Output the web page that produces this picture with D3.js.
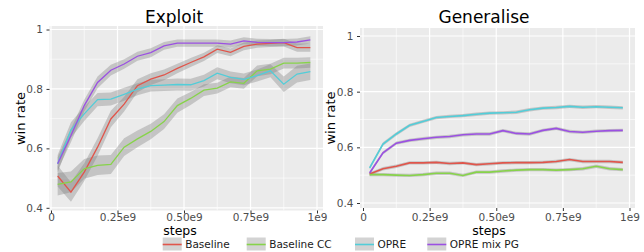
<!DOCTYPE html>
<html><head><meta charset="utf-8">
<script src="https://cdn.jsdelivr.net/npm/d3@7"></script>
<style>body{margin:0;background:#fff}svg{display:block;font-family:"DejaVu Sans",sans-serif}</style>
</head><body><svg id="c" width="644" height="252"></svg>
<script>
const steps = [0.025e9,0.075e9,0.125e9,0.175e9,0.225e9,0.275e9,0.325e9,0.375e9,0.425e9,0.475e9,0.525e9,0.575e9,0.625e9,0.675e9,0.725e9,0.775e9,0.825e9,0.875e9,0.925e9,0.975e9];
const seriesNames = ["Baseline","Baseline CC","OPRE","OPRE mix PG"];
const xTicks = [0,0.25e9,0.5e9,0.75e9,1e9];
const xTickLabels = ["0","0.25e9","0.50e9","0.75e9","1e9"];
const yTicks = [0.4,0.6,0.8,1];
const yTickLabels = ["0.4","0.6","0.8","1"];

// Exploit
const exploitBaseline   = [0.507,0.453,0.520,0.604,0.699,0.749,0.811,0.833,0.847,0.869,0.889,0.908,0.934,0.923,0.943,0.951,0.953,0.956,0.939,0.939];
const exploitBaselineCC = [0.479,0.487,0.531,0.543,0.546,0.604,0.632,0.657,0.690,0.744,0.768,0.796,0.803,0.824,0.819,0.861,0.867,0.887,0.887,0.889];
const exploitOPRE       = [0.548,0.662,0.716,0.764,0.766,0.782,0.799,0.811,0.813,0.815,0.814,0.828,0.853,0.839,0.832,0.845,0.861,0.816,0.850,0.858];
const exploitMix        = [0.548,0.643,0.744,0.822,0.863,0.884,0.910,0.922,0.945,0.954,0.954,0.954,0.954,0.951,0.962,0.957,0.956,0.956,0.958,0.965];
const exploitBaselineSd   = [0.035,0.033,0.030,0.030,0.028,0.025,0.022,0.020,0.018,0.016,0.015,0.014,0.013,0.013,0.013,0.012,0.012,0.013,0.014,0.014];
const exploitBaselineCCSd = [0.038,0.035,0.033,0.033,0.032,0.030,0.028,0.026,0.025,0.024,0.022,0.020,0.018,0.018,0.018,0.018,0.018,0.018,0.018,0.018];
const exploitOPRESd       = [0.030,0.026,0.024,0.022,0.022,0.022,0.020,0.020,0.020,0.020,0.020,0.020,0.020,0.020,0.020,0.020,0.022,0.026,0.028,0.028];
const exploitMixSd        = [0.022,0.022,0.020,0.020,0.018,0.016,0.015,0.015,0.013,0.012,0.012,0.012,0.012,0.012,0.012,0.012,0.012,0.012,0.012,0.012];

// Generalise
const genBaseline   = [0.504,0.523,0.532,0.544,0.544,0.546,0.542,0.544,0.538,0.541,0.544,0.545,0.545,0.546,0.549,0.556,0.549,0.549,0.549,0.546];
const genBaselineCC = [0.502,0.502,0.500,0.499,0.502,0.507,0.507,0.499,0.511,0.511,0.515,0.518,0.520,0.520,0.518,0.520,0.523,0.532,0.523,0.520];
const genOPRE       = [0.526,0.612,0.648,0.679,0.693,0.707,0.711,0.714,0.719,0.723,0.724,0.726,0.735,0.741,0.743,0.747,0.744,0.746,0.744,0.742];
const genMix        = [0.508,0.580,0.615,0.625,0.631,0.636,0.639,0.645,0.648,0.648,0.660,0.650,0.648,0.661,0.668,0.657,0.654,0.658,0.660,0.661];
const genSd = [0.006,0.006,0.006,0.006,0.006,0.006,0.006,0.006,0.006,0.006,0.006,0.006,0.006,0.006,0.006,0.006,0.006,0.006,0.006,0.006];

const colors = ["#e0554b","#87d34a","#52cdd8","#9b50e2"];

const svg = d3.select("#c");

function panel(cfg){
  const g = svg.append("g");
  const x = d3.scaleLinear().domain([0,1e9]).range(cfg.xr);
  const y = d3.scaleLinear().domain([0.4,1]).range(cfg.yr);
  const p = cfg.p;
  g.append("rect").attr("x",p.x0).attr("y",p.y0).attr("width",p.x1-p.x0).attr("height",p.y1-p.y0).attr("fill","#ebebeb");
  const clip = "clip"+cfg.id;
  g.append("clipPath").attr("id",clip).append("rect").attr("x",p.x0).attr("y",p.y0).attr("width",p.x1-p.x0).attr("height",p.y1-p.y0);
  const grid = g.append("g").attr("clip-path",`url(#${clip})`);
  const xMinor = [0.125e9,0.375e9,0.625e9,0.875e9];
  const yMinor = [0.5,0.7,0.9];
  grid.selectAll(".xm").data(xMinor).join("line").attr("x1",d=>x(d)).attr("x2",d=>x(d)).attr("y1",p.y0).attr("y2",p.y1).attr("stroke","#fff").attr("stroke-width",0.6);
  grid.selectAll(".ym").data(yMinor).join("line").attr("y1",d=>y(d)).attr("y2",d=>y(d)).attr("x1",p.x0).attr("x2",p.x1).attr("stroke","#fff").attr("stroke-width",0.6);
  grid.selectAll(".xM").data(xTicks).join("line").attr("x1",d=>x(d)).attr("x2",d=>x(d)).attr("y1",p.y0).attr("y2",p.y1).attr("stroke","#fff").attr("stroke-width",1.2);
  grid.selectAll(".yM").data(yTicks).join("line").attr("y1",d=>y(d)).attr("y2",d=>y(d)).attr("x1",p.x0).attr("x2",p.x1).attr("stroke","#fff").attr("stroke-width",1.2);

  const data = g.append("g").attr("clip-path",`url(#${clip})`);
  cfg.series.forEach((s,k)=>{
    const pts = steps.map((t,i)=>({t, v:s.v[i], sd:s.sd[i]}));
    const area = d3.area().x(d=>x(d.t)).y0(d=>y(d.v-d.sd)).y1(d=>y(d.v+d.sd));
    data.append("path").attr("d",area(pts)).attr("fill","#808080").attr("fill-opacity",0.36);
  });
  cfg.series.forEach((s,k)=>{
    const pts = steps.map((t,i)=>({t, v:s.v[i]}));
    const line = d3.line().x(d=>x(d.t)).y(d=>y(d.v));
    data.append("path").attr("d",line(pts)).attr("fill","none").attr("stroke",colors[k]).attr("stroke-width",cfg.lw);
  });

  // axes
  const xa = d3.axisBottom(x).tickValues(xTicks).tickFormat((d,i)=>xTickLabels[i]).tickSize(3).tickSizeOuter(0);
  const xg = g.append("g").attr("transform",`translate(0,${p.y1})`).call(xa);
  xg.select(".domain").remove();
  xg.selectAll("line").attr("stroke","#333");
  xg.selectAll("text").attr("fill","#4d4d4d").attr("font-size",10.5).attr("font-family","DejaVu Sans").attr("dy",null).attr("y",cfg.xtY);
  const ya = d3.axisLeft(y).tickValues(yTicks).tickFormat((d,i)=>yTickLabels[i]).tickSize(3).tickSizeOuter(0);
  const yg = g.append("g").attr("transform",`translate(${p.x0},0)`).call(ya);
  yg.select(".domain").remove();
  yg.selectAll("line").attr("stroke","#333");
  yg.selectAll("text").attr("fill","#4d4d4d").attr("font-size",10.5).attr("font-family","DejaVu Sans").attr("x",-6.5);

  g.append("text").attr("x",cfg.title[0]).attr("y",cfg.title[1]).attr("text-anchor","middle").attr("font-size",17).attr("fill","#000").text(cfg.name);
  g.append("text").attr("x",cfg.xt[0]).attr("y",cfg.xt[1]).attr("text-anchor","middle").attr("font-size",12.5).attr("fill","#000").text("steps");
  g.append("text").attr("transform",`translate(${cfg.yt[0]},${cfg.yt[1]}) rotate(-90)`).attr("text-anchor","middle").attr("font-size",13).attr("fill","#000").text("win rate");
}

panel({id:"L", name:"Exploit", p:{x0:49.5,x1:323,y0:26,y1:210.5}, xr:[51,317], yr:[207.8,29.5],
  title:[174,22.5], xt:[180,234.5], xtY:10.8, yt:[24.5,118.5], lw:1.3,
  series:[{v:exploitBaseline,sd:exploitBaselineSd},{v:exploitBaselineCC,sd:exploitBaselineCCSd},{v:exploitOPRE,sd:exploitOPRESd},{v:exploitMix,sd:exploitMixSd}]});
panel({id:"R", name:"Generalise", p:{x0:360,x1:635,y0:28,y1:208}, xr:[363,629.5], yr:[203,36],
  title:[484,22.5], xt:[489,234.5], xtY:12.5, yt:[334.5,118], lw:1.6,
  series:[{v:genBaseline,sd:genSd},{v:genBaselineCC,sd:genSd},{v:genOPRE,sd:genSd},{v:genMix,sd:genSd}]});

// legend
const legX = [162.7,246.7,355,427.3];
const lg = svg.append("g");
seriesNames.forEach((n,k)=>{
  lg.append("rect").attr("x",legX[k]).attr("y",237.5).attr("width",19).attr("height",13).attr("fill","#d3d3d3");
  lg.append("line").attr("x1",legX[k]).attr("x2",legX[k]+19).attr("y1",244.5).attr("y2",244.5).attr("stroke",colors[k]).attr("stroke-width",1.6);
  lg.append("text").attr("x",legX[k]+22.5).attr("y",248.3).attr("font-size",10.5).attr("fill","#1a1a1a").text(n);
});
</script></body></html>
